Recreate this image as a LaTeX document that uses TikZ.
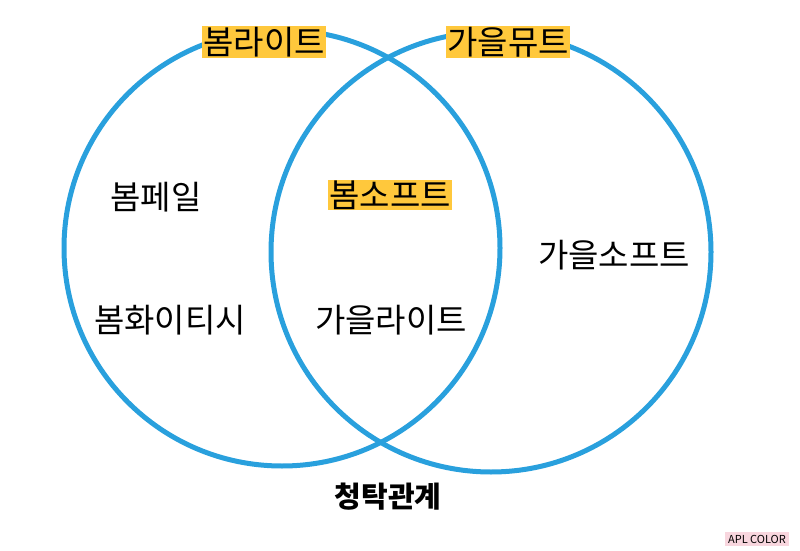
\documentclass[tikz,border=0pt]{standalone}
\usepackage{fontspec}
\setmainfont{Noto Sans CJK KR}
\definecolor{ringblue}{RGB}{41,160,221}
\definecolor{hiyellow}{RGB}{255,200,60}
\definecolor{tagpink}{RGB}{248,214,222}
\begin{document}
\begin{tikzpicture}[x=1pt,y=-1pt,
    ring/.style={draw=ringblue, line width=5pt},
    word/.style={font=\fontsize{33}{36}\selectfont, inner sep=1pt},
    hilite/.style={word, fill=hiyellow}]
  \useasboundingbox (0,0) rectangle (800,551);

  % two seasons
  \draw[ring] (282,248) circle (218);
  \draw[ring] (491,252) circle (220);

  % labels on the rims
  \node[hilite] (springlight) at (264,42) {봄라이트};
  \node[hilite] (autumnmute) at (508,42) {가을뮤트};

  % inside
  \node[hilite] (springsoft) at (390,195) {봄소프트};
  \node[word] (springpale) at (156,197) {봄페일};
  \node[word] (springwhite) at (170,320) {봄화이티시};
  \node[word] (autumnlight) at (391,320) {가을라이트};
  \node[word] (autumnsoft) at (614,255) {가을소프트};

  % caption
  \node[font=\fontsize{29}{32}\selectfont\bfseries] (caption) at (388,497) {청탁관계};
  \node[fill=tagpink, font=\fontsize{11}{12}\selectfont, inner sep=3pt] (tag) at (757,539) {APL COLOR};
\end{tikzpicture}
\end{document}
